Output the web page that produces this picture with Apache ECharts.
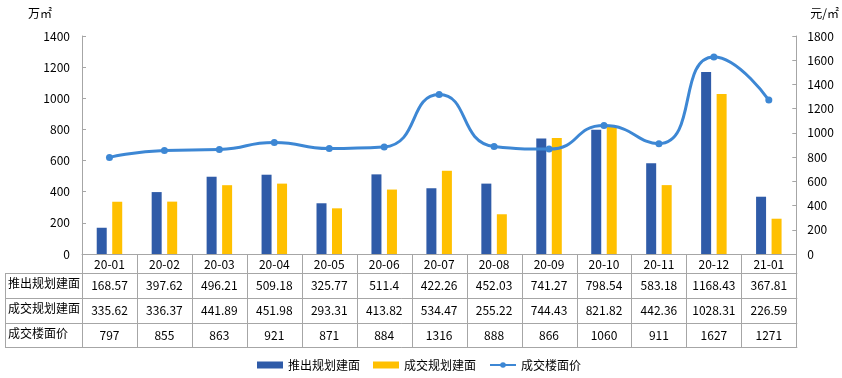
<!DOCTYPE html>
<html><head><meta charset="utf-8">
<script src="https://cdn.jsdelivr.net/npm/echarts@6/dist/echarts.min.js"></script>
<style>html,body{margin:0;padding:0;background:#fff}#c{width:842px;height:378px}</style>
</head><body><div id="c"></div>
<script>
const categories = ['20-01','20-02','20-03','20-04','20-05','20-06','20-07','20-08','20-09','20-10','20-11','20-12','21-01'];
const supplyArea = [168.57,397.62,496.21,509.18,325.77,511.4,422.26,452.03,741.27,798.54,583.18,1168.43,367.81];
const dealArea = [335.62,336.37,441.89,451.98,293.31,413.82,534.47,255.22,744.43,821.82,442.36,1028.31,226.59];
const dealPrice = [797,855,863,921,871,884,1316,888,866,1060,911,1627,1271];
const seriesNames = ['推出规划建面','成交规划建面','成交楼面价'];
const leftTicks = [0,1400,200];
const rightTicks = [0,1800,200];

const FONT = "'Microsoft YaHei','Noto Sans CJK SC',sans-serif";
const txt = '#000';
const border = '#A6A6A6';
const chart = echarts.init(document.getElementById('c'));
chart.setOption({
  animation:false,
  textStyle:{fontFamily:FONT},
  grid:{left:82,right:44,top:36,height:218,containLabel:false},
  legend:{
    left:257, top:359, padding:0, itemWidth:26, itemHeight:7, itemGap:13,
    textStyle:{fontSize:12,color:txt,fontFamily:FONT},
    data:[{name:seriesNames[0],icon:'rect'},{name:seriesNames[1],icon:'rect'},{name:seriesNames[2]}]
  },
  xAxis:{type:'category',data:categories,
    axisLine:{lineStyle:{color:border}},axisTick:{show:false},
    axisLabel:{interval:0,margin:4,fontSize:12,color:txt,fontFamily:FONT,verticalAlign:'top'}},
  yAxis:[
    {type:'value',min:leftTicks[0],max:leftTicks[1],interval:leftTicks[2],name:'万㎡',
     nameLocation:'end',nameGap:17,nameTextStyle:{fontSize:12,color:txt,align:'right',padding:[0,30,0,0]},
     axisLine:{show:true,lineStyle:{color:border}},axisTick:{show:true,inside:true,length:4,lineStyle:{color:border}},
     splitLine:{show:false},axisLabel:{fontSize:12,color:txt,margin:12,formatter:v=>String(v)}},
    {type:'value',min:rightTicks[0],max:rightTicks[1],interval:rightTicks[2],name:'元/㎡',
     nameLocation:'end',nameGap:17,nameTextStyle:{fontSize:12,color:txt,align:'left',padding:[0,0,0,14]},
     axisLine:{show:true,lineStyle:{color:border}},axisTick:{show:true,inside:true,length:4,lineStyle:{color:border}},
     splitLine:{show:false},axisLabel:{fontSize:12,color:txt,margin:11,formatter:v=>String(v)}}
  ],
  series:[
    {name:seriesNames[0],type:'bar',data:supplyArea,barWidth:10,barGap:'55%',itemStyle:{color:'#2F5BA8'}},
    {name:seriesNames[1],type:'bar',data:dealArea,barWidth:10,itemStyle:{color:'#FFC000'}},
    {name:seriesNames[2],type:'line',yAxisIndex:1,data:dealPrice,smooth:0.55,symbol:'circle',symbolSize:7,
     lineStyle:{width:3,color:'#3D87D4'},itemStyle:{color:'#3D87D4'}}
  ]
});

// data table under the x axis
const rows = [[seriesNames[0],supplyArea],[seriesNames[1],dealArea],[seriesNames[2],dealPrice]];
const x0 = chart.convertToPixel({xAxisIndex:0},0);
const x1 = chart.convertToPixel({xAxisIndex:0},1);
const bw = x1 - x0;
const leftEdge = x0 - bw/2;
const rightEdge = leftEdge + bw*categories.length;
const axisY = chart.convertToPixel({yAxisIndex:0},0);
const rowLines = [axisY+19, axisY+44, axisY+69, axisY+93];
const tableLeft = 5;
const g = [];
const line = (xa,ya,xb,yb)=>g.push({type:'line',shape:{x1:xa,y1:ya,x2:xb,y2:yb},style:{stroke:border,lineWidth:1},silent:true});
for(let i=0;i<=categories.length;i++){
  const x = Math.round(leftEdge+bw*i)+0.5;
  line(x,axisY,x,rowLines[3]);
}
line(tableLeft+0.5,rowLines[0],tableLeft+0.5,rowLines[3]);
rowLines.forEach(y=>line(tableLeft,Math.round(y)+0.5,rightEdge+1,Math.round(y)+0.5));
rows.forEach((r,ri)=>{
  const cy = (rowLines[ri]+rowLines[ri+1])/2;
  g.push({type:'text',left:tableLeft+3,top:cy-8,style:{text:r[0],font:'12px '+FONT,fill:txt,textVerticalAlign:'middle'},silent:true});
  r[1].forEach((v,i)=>{
    const cx = chart.convertToPixel({xAxisIndex:0},i);
    g.push({type:'text',x:cx,y:cy,style:{text:String(v),font:'12px '+FONT,fill:txt,textAlign:'center',textVerticalAlign:'middle'},silent:true});
  });
});
chart.setOption({graphic:g});
</script></body></html>
